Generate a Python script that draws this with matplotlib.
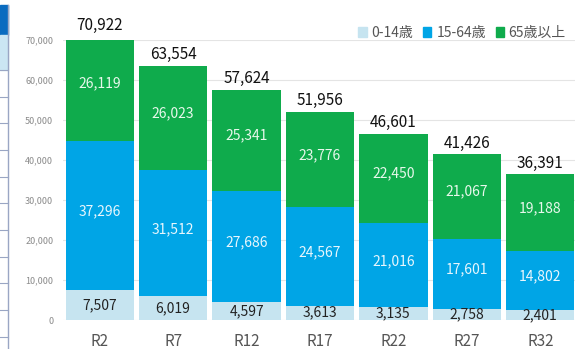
import numpy as np
import matplotlib
matplotlib.use("Agg")
import matplotlib.pyplot as plt
from matplotlib.patches import Rectangle
from matplotlib.lines import Line2D

plt.rcParams['font.family'] = ['Noto Sans CJK JP', 'DejaVu Sans']

# population projection by age group
years = ['R2', 'R7', 'R12', 'R17', 'R22', 'R27', 'R32']
age_0_14 = [7507, 6019, 4597, 3613, 3135, 2758, 2401]
age_15_64 = [37296, 31512, 27686, 24567, 21016, 17601, 14802]
age_65_up = [26119, 26023, 25341, 23776, 22450, 21067, 19188]
totals = [70922, 63554, 57624, 51956, 46601, 41426, 36391]
labels = ['0-14歳', '15-64歳', '65歳以上']

c_light = '#c6e4f0'
c_blue = '#00a5e6'
c_green = '#0fab4c'

W, H = 575, 349
fig = plt.figure(figsize=(W / 100, H / 100), dpi=100)
ax = fig.add_axes([63 / W, 1 - 320 / H, (577 - 63) / W, (320 - 40) / H])

x = np.arange(len(years))
a = np.array(age_0_14)
b = np.array(age_15_64)
c = np.array(age_65_up)
bw = 0.93
ax.bar(x, a, bw, color=c_light, label=labels[0], zorder=2)
ax.bar(x, b, bw, bottom=a, color=c_blue, label=labels[1], zorder=2)
ax.bar(x, c, bw, bottom=a + b, color=c_green, label=labels[2], zorder=2)

for i in range(len(years)):
    ax.text(x[i], a[i] / 2, f'{a[i]:,}', ha='center', va='center',
            fontsize=10, color='#222222', zorder=3)
    ax.text(x[i], a[i] + b[i] / 2 + 1000, f'{b[i]:,}', ha='center', va='center',
            fontsize=10, color='#e8f6fd', zorder=3)
    ax.text(x[i], a[i] + b[i] + c[i] / 2 + 1200, f'{c[i]:,}', ha='center', va='center',
            fontsize=10, color='#e8f8ec', zorder=3)
    ax.text(x[i], totals[i] + 700, f'{totals[i]:,}', ha='center', va='bottom',
            fontsize=11, color='#111111', zorder=3)

ax.set_xlim(-0.5, len(years) - 0.5)
ax.set_ylim(0, 70000)
ax.set_yticks(range(0, 70001, 10000))
ax.set_yticklabels([f'{v:,}' for v in range(0, 70001, 10000)],
                   fontsize=6.5, color='#8a8a8a')
ax.set_xticks(x)
ax.set_xticklabels(years, fontsize=11, color='#555555')
ax.tick_params(axis='both', length=0)
ax.tick_params(axis='y', pad=7)
ax.tick_params(axis='x', pad=9)
ax.grid(axis='y', color='#e4e4e4', linewidth=0.8, zorder=0)
for s in ax.spines.values():
    s.set_visible(False)

handles = [Rectangle((0, 0), 1, 1, color=col) for col in (c_light, c_blue, c_green)]
fig.legend(handles, labels, loc='upper right', bbox_to_anchor=(570 / W, 1 - 22 / H),
           ncol=3, frameon=False, fontsize=10, handlelength=0.6, handleheight=0.7,
           handletextpad=0.35, columnspacing=0.7, labelcolor='#555555',
           borderaxespad=0, borderpad=0.3)

# edge of the neighbouring table on the left
fig.add_artist(Rectangle((0, 1 - 35 / H), 8 / W, 30 / H, transform=fig.transFigure,
                         color='#0a6cc0'))
fig.add_artist(Rectangle((0, 1 - 70 / H), 8 / W, 35 / H, transform=fig.transFigure,
                         color='#cbe6f3'))
fig.add_artist(Line2D([8 / W, 8 / W], [0, 1 - 5 / H], transform=fig.transFigure,
                      color='#9aa6c4', linewidth=1))
for yy in [70, 97, 123, 150, 177, 203, 230, 257, 283, 310, 337]:
    fig.add_artist(Line2D([0, 8 / W], [1 - yy / H, 1 - yy / H], transform=fig.transFigure,
                          color='#9aa6c4', linewidth=0.8))

fig.savefig('out.png', dpi=100)
